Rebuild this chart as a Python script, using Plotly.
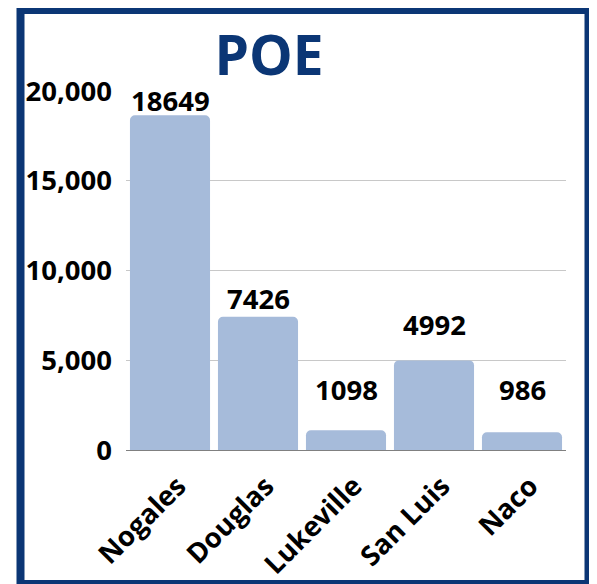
import plotly.graph_objects as go

categories = ["Nogales", "Douglas", "Lukeville", "San Luis", "Naco"]
values = [18649, 7426, 1098, 4992, 986]
tick_vals = [0, 5000, 10000, 15000, 20000]
tick_text = ["0", "5,000", "10,000", "15,000", "20,000"]

# vertical pixel offset of each value label above its bar (styling)
label_shift_px = [15, 18, 41, 36, 43]

# page body has an 8px margin; figure is sized so its pixels = page pixels - 8
OFF = 8
W, H = 597 - OFF, 584 - OFF
L, R, T, B = 126 - OFF, 597 - 566, 91 - OFF, H - (450 - OFF)
pw, ph = W - L - R, H - T - B

def px_x(px):
    return (px - OFF - L) / pw

def px_y(py):
    return (H - B - (py - OFF)) / ph

font = "Open Sans"
fs = 27.5

fig = go.Figure(go.Bar(
    x=categories, y=values,
    marker=dict(color="#a6bbda", line=dict(width=0), cornerradius=5),
    cliponaxis=False,
))

for c, v, s in zip(categories, values, label_shift_px):
    fig.add_annotation(x=c, y=v, xref="x", yref="y", text=str(v), showarrow=False,
                       yanchor="middle", yshift=s,
                       font=dict(family=font, size=fs, color="#000000", weight="bold"))

fig.update_layout(
    width=W, height=H,
    margin=dict(l=L, r=R, t=T, b=B, autoexpand=False),
    paper_bgcolor="white", plot_bgcolor="white",
    bargap=0.09,
    showlegend=False,
    title=dict(text="<b>POE</b>", x=(269 - OFF) / W, xref="container", xanchor="center",
               y=1 - (56 - OFF) / H, yref="container", yanchor="middle",
               font=dict(family=font, size=55, color="#0b3675"), automargin=False),
    font=dict(family=font),
    yaxis=dict(range=[0, 20000], tickvals=tick_vals, ticktext=tick_text,
               tickfont=dict(family=font, size=fs, color="#000000", weight="bold"),
               showgrid=True, gridcolor="#c8c8c8", gridwidth=1,
               zeroline=False, ticks="", ticklen=0, fixedrange=True,
               automargin=False, ticklabelstandoff=13),
    xaxis=dict(tickangle=-45,
               tickfont=dict(family=font, size=fs, color="#000000", weight="bold"),
               showline=True, linecolor="#808080", linewidth=1,
               ticks="", showgrid=False, ticklabelstandoff=8, ticklabelshift=8,
               automargin=False),
    shapes=[dict(type="rect", xref="paper", yref="paper",
                 x0=px_x(20.5), x1=px_x(588.5), y0=px_y(584), y1=px_y(10),
                 line=dict(color="#0b3675", width=8), fillcolor="rgba(0,0,0,0)",
                 layer="above")],
)

fig.write_html("out.html")
